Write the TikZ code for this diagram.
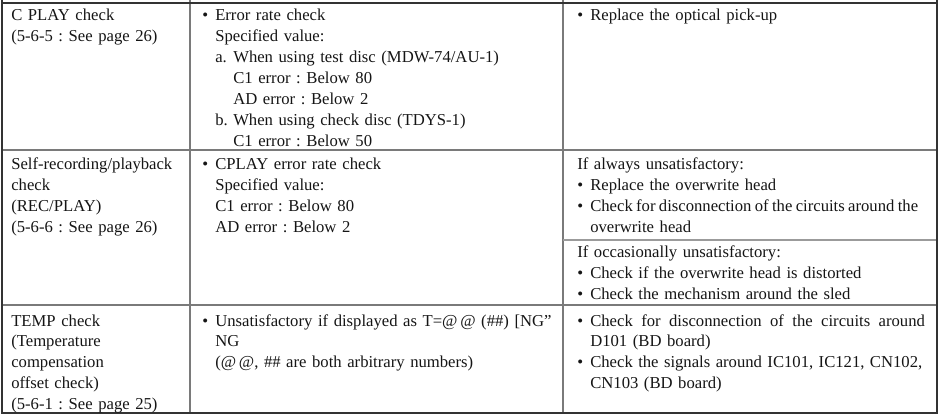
\documentclass[tikz,border=0pt]{standalone}
\usepackage{fontspec}
\setmainfont{Liberation Serif}
\definecolor{inkgray}{HTML}{151515}
\definecolor{framegray}{HTML}{333333}
\definecolor{rulegray}{HTML}{7A7A7A}
\def\bul{\makebox[9.75pt][l]{\textbullet}}
\def\ind{\hspace*{9.75pt}}
\def\sub#1{\makebox[13.5pt][l]{#1}}
\frenchspacing

\begin{document}
\begin{tikzpicture}[x=0.75pt, y=-0.75pt,
	cell/.style={inner sep=0pt, anchor=base west, text width=420pt, align=left, text=inkgray, font=\fontsize{12.5}{15.7}\selectfont},
	frame/.style={line width=1.5pt, color=framegray},
	rule/.style={line width=0.9pt, color=rulegray}]
		%%%%% START %%%%%
		\useasboundingbox (0, 0) rectangle (940, 417);
		
		\draw[rule] (190, 0) -- (190, 413);
		\draw[rule] (563, 0) -- (563, 413);
		\draw[rule] (2, 150) -- (937, 150);
		\draw[rule] (2, 305) -- (937, 305);
		\draw[rule, color=rulegray!75] (563, 240) -- (937, 240);
		\draw[line width=1.1pt, color=framegray] (2, 3) -- (937, 3);
		\draw[frame] (2, 0) -- (2, 413) -- (937, 413) -- (937, 0);
		
		\node[cell] (cplay) at (11, 21) {C PLAY check\\(5-6-5 : See page 26)};
		\node[cell] (cplayspec) at (202, 21) {\bul Error rate check\\
			\ind Specified value:\\
			\ind\sub{a.}When using test disc (MDW-74/AU-1)\\
			\ind\sub{}C1 error : Below 80\\
			\ind\sub{}AD error : Below 2\\
			\ind\sub{b.}When using check disc (TDYS-1)\\
			\ind\sub{}C1 error : Below 50};
		\node[cell] (cplayfix) at (577, 21) {\bul Replace the optical pick-up};
		
		\node[cell] (rec) at (11, 170) {Self-recording/playback\\check\\(REC/PLAY)\\(5-6-6 : See page 26)};
		\node[cell] (recspec) at (202, 170) {\bul CPLAY error rate check\\
			\ind Specified value:\\
			\ind C1 error : Below 80\\
			\ind AD error : Below 2};
		\node[cell] (recalways) at (577, 170) {If always unsatisfactory:\\
			\bul Replace the overwrite head\\
			\bul{\spaceskip=0.2em\relax Check for disconnection of the circuits around the}\\
			\ind overwrite head};
		\node[cell] (recsometimes) at (577, 258) {If occasionally unsatisfactory:\\
			\bul Check if the overwrite head is distorted\\
			\bul Check the mechanism around the sled};
		
		\node[cell] (temp) at (11, 326) {TEMP check\\(Temperature\\compensation\\offset check)\\(5-6-1 : See page 25)};
		\node[cell] (tempspec) at (202, 326) {\bul Unsatisfactory if displayed as T=@\,@ (\#\#) [NG”\\
			\ind NG\\
			\ind (@\,@, \#\# are both arbitrary numbers)};
		\node[cell] (tempfix) at (577, 326) {\bul\makebox[251pt][l]{Check\hfill for\hfill disconnection\hfill of\hfill the\hfill circuits\hfill around}\\
			\ind D101 (BD board)\\
			\bul\makebox[249pt][l]{Check\hfill the\hfill signals\hfill around\hfill IC101,\hfill IC121,\hfill CN102,}\\
			\ind CN103 (BD board)};
		
		%%%%% END %%%%%
	\end{tikzpicture}
\end{document}
